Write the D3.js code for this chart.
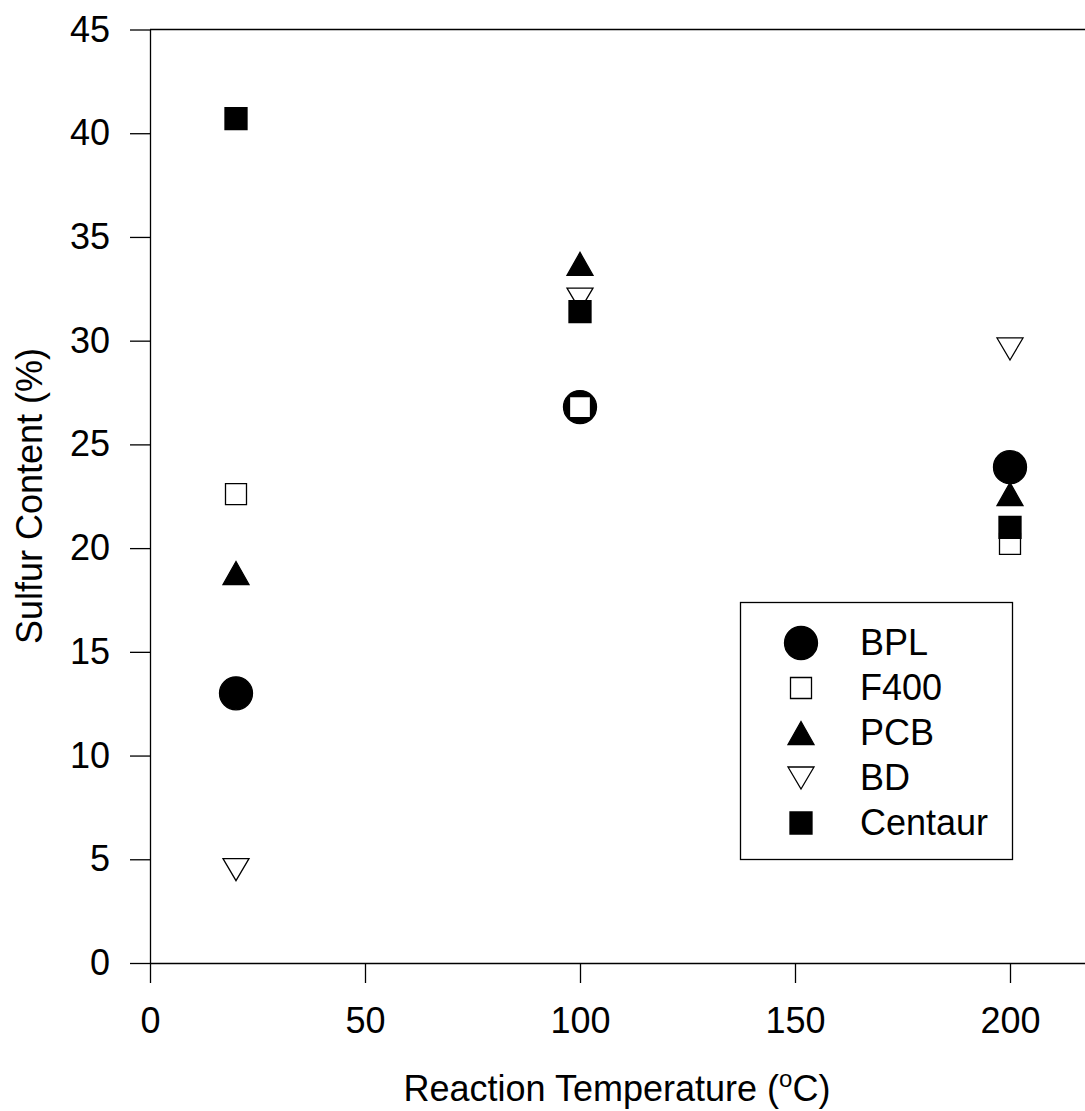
<!DOCTYPE html>
<html>
<head>
<meta charset="utf-8">
<script src="https://cdn.jsdelivr.net/npm/d3@7"></script>
<style>
body { margin: 0; background: #fff; }
svg text { font-family: "Liberation Sans", Arial, sans-serif; fill: #000; }
</style>
</head>
<body>
<svg id="chart" width="1085" height="1111"></svg>
<script>
// temperatures (C) and sulfur content (%)
var temps = [20, 100, 200];
var seriesNames = ["BPL", "F400", "PCB", "BD", "Centaur"];
var bplValues = [13.0, 26.8, 23.9];
var f400Values = [22.6, 26.8, 20.2];
var pcbValues = [18.8, 33.7, 22.6];
var bdValues = [4.5, 32.0, 29.6];
var centaurValues = [40.7, 31.4, 21.0];
var xTicks = [0, 50, 100, 150, 200];
var yTicks = [0, 5, 10, 15, 20, 25, 30, 35, 40, 45];

var allValues = [bplValues, f400Values, pcbValues, bdValues, centaurValues];

// marker shapes, drawn around 0,0
var markers = {
    BPL: { d: "M-16.5,0A16.5,16.5 0 1,0 16.5,0A16.5,16.5 0 1,0 -16.5,0Z", fill: "#000" },
    F400: { d: "M-10.5,-10.5H10.5V10.5H-10.5Z", fill: "#fff" },
    PCB: { d: "M0,-11.5L13,11.5H-13Z", fill: "#000" },
    BD: { d: "M0,11L13,-11H-13Z", fill: "#fff" },
    Centaur: { d: "M-11,-11H11V11H-11Z", fill: "#000" }
};

var svg = d3.select("#chart");

var x = d3.scaleLinear().domain([0, 220]).range([150, 150 + 220 * 4.3]);
var y = d3.scaleLinear().domain([0, 45]).range([963, 29.5]);

// top frame line
svg.append("line")
    .attr("x1", x(0)).attr("x2", x(220))
    .attr("y1", y(45)).attr("y2", y(45))
    .attr("stroke", "#000").attr("stroke-width", 1.3);

var yAxis = svg.append("g")
    .attr("transform", "translate(" + x(0) + ",0)")
    .call(d3.axisLeft(y).tickValues(yTicks).tickSize(20).tickSizeOuter(0).tickPadding(20));

var xAxis = svg.append("g")
    .attr("transform", "translate(0," + y(0) + ")")
    .call(d3.axisBottom(x).tickValues(xTicks).tickSize(20).tickSizeOuter(0).tickPadding(24));

svg.selectAll(".domain, .tick line").attr("stroke", "#000").attr("stroke-width", 1.3);
svg.selectAll(".tick text").style("font-size", "36px").attr("font-family", null);

// axis titles
var xt = svg.append("text")
    .attr("x", 617).attr("y", 1101)
    .attr("text-anchor", "middle")
    .style("font-size", "36px")
    .text("Reaction Temperature (");
xt.append("tspan").attr("dy", -14).style("font-size", "24px").text("o");
xt.append("tspan").attr("dy", 14).text("C)");

svg.append("text")
    .attr("transform", "translate(42,496) rotate(-90)")
    .attr("text-anchor", "middle")
    .style("font-size", "36px")
    .text("Sulfur Content (%)");

// points, series in drawing order
seriesNames.forEach(function (name, i) {
    var pts = temps.map(function (t, j) { return { t: t, v: allValues[i][j] }; });
    svg.append("g").selectAll("path")
        .data(pts)
        .enter()
        .append("path")
        .attr("transform", function (d) { return "translate(" + x(d.t) + "," + y(d.v) + ")"; })
        .attr("d", markers[name].d)
        .attr("fill", markers[name].fill)
        .attr("stroke", "#000")
        .attr("stroke-width", 1.3);
});

// legend
var legend = svg.append("g");
legend.append("rect")
    .attr("x", 740.5).attr("y", 602.5)
    .attr("width", 272).attr("height", 257)
    .attr("fill", "#fff").attr("stroke", "#000").attr("stroke-width", 1.3);

var rows = legend.selectAll("g.row")
    .data(seriesNames)
    .enter()
    .append("g")
    .attr("class", "row")
    .attr("transform", function (d, i) { return "translate(801," + (643 + i * 45) + ")"; });

rows.append("path")
    .attr("d", function (d) { return markers[d].d; })
    .attr("fill", function (d) { return markers[d].fill; })
    .attr("stroke", "#000")
    .attr("stroke-width", 1.3);

rows.append("text")
    .attr("x", 59)
    .attr("y", 12)
    .style("font-size", "36px")
    .text(function (d) { return d; });
</script>
</body>
</html>
